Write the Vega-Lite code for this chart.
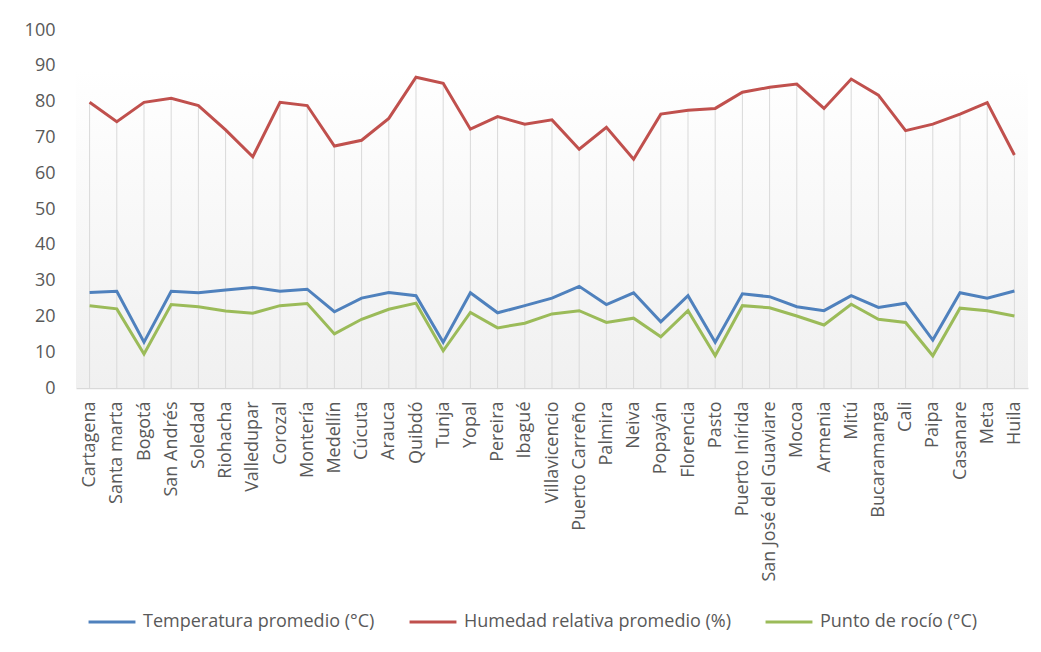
{
  "$schema": "https://vega.github.io/schema/vega-lite/v6.json",
  "autosize": "none",
  "width": 952,
  "height": 358,
  "padding": {"left": 76, "top": 30, "right": 13, "bottom": 264},
  "background": "white",
  "config": {
    "view": {"stroke": null},
    "font": "Open Sans",
    "axis": {"labelFont": "Open Sans", "labelColor": "#595959", "labelFontSize": 18, "labelOverlap": false, "labelLimit": 0},
    "legend": {"labelFont": "Open Sans", "labelColor": "#595959", "labelFontSize": 18, "labelLimit": 0}
  },
  "data": {
    "values": [
      {"ciudad": "Cartagena", "temp": 26.7, "hum": 79.8, "rocio": 23.0},
      {"ciudad": "Santa marta", "temp": 27.0, "hum": 74.4, "rocio": 22.1},
      {"ciudad": "Bogotá", "temp": 12.8, "hum": 79.8, "rocio": 9.5},
      {"ciudad": "San Andrés", "temp": 27.0, "hum": 80.9, "rocio": 23.3},
      {"ciudad": "Soledad", "temp": 26.6, "hum": 78.9, "rocio": 22.7},
      {"ciudad": "Riohacha", "temp": 27.4, "hum": 72.1, "rocio": 21.5},
      {"ciudad": "Valledupar", "temp": 28.1, "hum": 64.6, "rocio": 20.9},
      {"ciudad": "Corozal", "temp": 27.0, "hum": 79.8, "rocio": 23.0},
      {"ciudad": "Montería", "temp": 27.6, "hum": 78.9, "rocio": 23.6},
      {"ciudad": "Medellín", "temp": 21.3, "hum": 67.6, "rocio": 15.1},
      {"ciudad": "Cúcuta", "temp": 25.1, "hum": 69.2, "rocio": 19.2},
      {"ciudad": "Arauca", "temp": 26.7, "hum": 75.3, "rocio": 22.0},
      {"ciudad": "Quibdó", "temp": 25.8, "hum": 86.8, "rocio": 23.7},
      {"ciudad": "Tunja", "temp": 12.8, "hum": 85.1, "rocio": 10.4},
      {"ciudad": "Yopal", "temp": 26.6, "hum": 72.3, "rocio": 21.1},
      {"ciudad": "Pereira", "temp": 21.0, "hum": 75.8, "rocio": 16.8},
      {"ciudad": "Ibagué", "temp": 23.0, "hum": 73.7, "rocio": 18.1},
      {"ciudad": "Villavicencio", "temp": 25.1, "hum": 74.9, "rocio": 20.7},
      {"ciudad": "Puerto Carreño", "temp": 28.4, "hum": 66.7, "rocio": 21.6},
      {"ciudad": "Palmira", "temp": 23.3, "hum": 72.8, "rocio": 18.3},
      {"ciudad": "Neiva", "temp": 26.6, "hum": 63.9, "rocio": 19.5},
      {"ciudad": "Popayán", "temp": 18.5, "hum": 76.5, "rocio": 14.3},
      {"ciudad": "Florencia", "temp": 25.8, "hum": 77.6, "rocio": 21.6},
      {"ciudad": "Pasto", "temp": 12.8, "hum": 78.1, "rocio": 9.0},
      {"ciudad": "Puerto Inírida", "temp": 26.3, "hum": 82.6, "rocio": 23.0},
      {"ciudad": "San José del Guaviare", "temp": 25.5, "hum": 84.0, "rocio": 22.4},
      {"ciudad": "Mocoa", "temp": 22.7, "hum": 84.9, "rocio": 20.1},
      {"ciudad": "Armenia", "temp": 21.6, "hum": 78.1, "rocio": 17.6},
      {"ciudad": "Mitú", "temp": 25.8, "hum": 86.3, "rocio": 23.4},
      {"ciudad": "Bucaramanga", "temp": 22.5, "hum": 81.8, "rocio": 19.2},
      {"ciudad": "Cali", "temp": 23.7, "hum": 71.9, "rocio": 18.3},
      {"ciudad": "Paipa", "temp": 13.4, "hum": 73.7, "rocio": 9.0},
      {"ciudad": "Casanare", "temp": 26.6, "hum": 76.5, "rocio": 22.3},
      {"ciudad": "Meta", "temp": 25.1, "hum": 79.7, "rocio": 21.6},
      {"ciudad": "Huila", "temp": 27.1, "hum": 65.1, "rocio": 20.1}
    ]
  },
  "encoding": {
    "x": {
      "field": "ciudad",
      "type": "nominal",
      "sort": null,
      "scale": {"type": "point", "padding": 0.5},
      "axis": {
        "title": null,
        "labelAngle": -90,
        "labelPadding": 13,
        "labelLimit": 0,
        "ticks": false,
        "domainColor": "#d9d9d9",
        "domainWidth": 1.5,
        "grid": false
      }
    }
  },
  "layer": [
    {
      "data": {"values": [{"top": 88.8, "bottom": 0}]},
      "mark": {
        "type": "rect",
        "color": {
          "gradient": "linear",
          "x1": 0, "y1": 0, "x2": 0, "y2": 1,
          "stops": [
            {"offset": 0, "color": "#ffffff"},
            {"offset": 1, "color": "#f0f0f0"}
          ]
        }
      },
      "encoding": {
        "x": null,
        "y": {
          "field": "top",
          "type": "quantitative",
          "scale": {"domain": [0, 100], "nice": false},
          "axis": {
            "title": null,
            "values": [0, 10, 20, 30, 40, 50, 60, 70, 80, 90, 100],
            "tickCount": 11,
            "labelOverlap": false,
            "ticks": false,
            "domain": false,
            "grid": false,
            "labelPadding": 21
          }
        },
        "y2": {"field": "bottom"}
      }
    },
    {
      "mark": {"type": "rule", "color": "#d9d9d9", "strokeWidth": 1},
      "encoding": {
        "y": {"field": "hum", "type": "quantitative"},
        "y2": {"datum": 0}
      }
    },
    {
      "transform": [
        {"fold": ["temp", "hum", "rocio"], "as": ["clave", "valor"]},
        {"lookup": "clave", "from": {"data": {"values": [
          {"clave": "temp", "serie": "Temperatura promedio (°C)"},
          {"clave": "hum", "serie": "Humedad relativa promedio (%)"},
          {"clave": "rocio", "serie": "Punto de rocío (°C)"}
        ]}, "key": "clave", "fields": ["serie"]}}
      ],
      "mark": {"type": "line", "strokeWidth": 3},
      "encoding": {
        "y": {"field": "valor", "type": "quantitative"},
        "color": {
          "field": "serie",
          "type": "nominal",
          "scale": {
            "domain": ["Temperatura promedio (°C)", "Humedad relativa promedio (%)", "Punto de rocío (°C)"],
            "range": ["#4f81bd", "#c0504d", "#9bbb59"]
          },
          "legend": {
            "title": null,
            "orient": "none",
            "direction": "horizontal",
            "legendX": 11,
            "legendY": 567,
            "symbolType": "stroke",
            "symbolSize": 2200,
            "symbolStrokeWidth": 3,
            "labelOffset": 6,
            "columnPadding": 28
          }
        }
      }
    }
  ]
}
